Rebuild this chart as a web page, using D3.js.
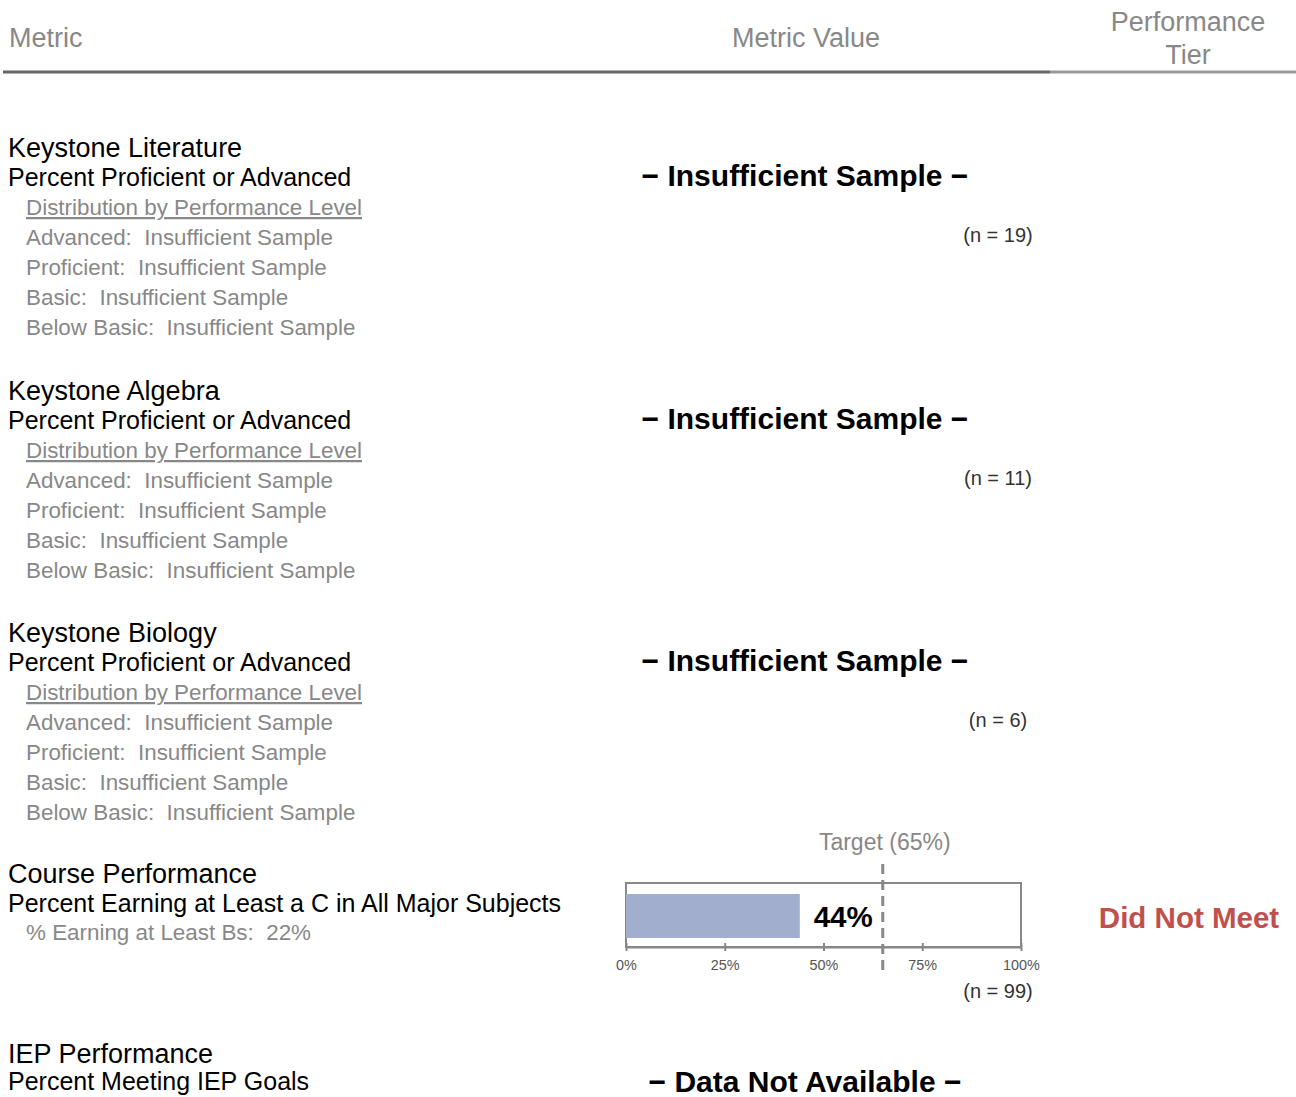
<!DOCTYPE html>
<html><head><meta charset="utf-8">
<script src="https://cdn.jsdelivr.net/npm/d3@7"></script>
<style>
html,body{margin:0;padding:0;background:#fff;}
svg{display:block;font-family:"Liberation Sans",Arial,sans-serif;}
</style></head>
<body>
<svg id="chart" width="1296" height="1097"></svg>
<script>
// ---- data ----
const headers = ["Metric", "Metric Value", "Performance Tier"];
const metricTitles = ["Keystone Literature", "Keystone Algebra", "Keystone Biology", "Course Performance", "IEP Performance"];
const metricSubtitles = ["Percent Proficient or Advanced", "Percent Proficient or Advanced", "Percent Proficient or Advanced", "Percent Earning at Least a C in All Major Subjects", "Percent Meeting IEP Goals"];
const sampleSizes = [19, 11, 6, 99, null];
const valueStatus = ["Insufficient Sample", "Insufficient Sample", "Insufficient Sample", null, "Data Not Available"];
const distLevels = ["Advanced", "Proficient", "Basic", "Below Basic"];
const distValues = ["Insufficient Sample", "Insufficient Sample", "Insufficient Sample", "Insufficient Sample"];
const courseValue = 44;      // % earning at least a C
const courseTarget = 65;     // target %
const courseBs = 22;         // % earning at least Bs
const courseTier = "Did Not Meet";
const axisTicks = [0, 25, 50, 75, 100];

// ---- drawing ----
const svg = d3.select("#chart");
const grey = "#888888";
const sectionTop = [147, 390, 632, 873, 1053];
const subGap = [29, 29, 29, 29, 27];
const valueGap = [29, 29, 29, 29, 29];

// header
svg.append("text").attr("x", 9).attr("y", 47).attr("font-size", 27).attr("fill", grey).text(headers[0]);
svg.append("text").attr("x", 806).attr("y", 47).attr("text-anchor", "middle").attr("font-size", 27).attr("fill", grey).text(headers[1]);
const tierWords = headers[2].split(" ");
svg.append("text").attr("x", 1188).attr("y", 31).attr("text-anchor", "middle").attr("font-size", 27).attr("fill", grey).text(tierWords[0]);
svg.append("text").attr("x", 1188).attr("y", 64).attr("text-anchor", "middle").attr("font-size", 27).attr("fill", grey).text(tierWords[1]);
svg.append("line").attr("x1", 3).attr("x2", 1050).attr("y1", 72).attr("y2", 72).attr("stroke", "#666").attr("stroke-width", 3);
svg.append("line").attr("x1", 1050).attr("x2", 1296).attr("y1", 72).attr("y2", 72).attr("stroke", "#999").attr("stroke-width", 3);

metricTitles.forEach((t, i) => {
  const y0 = sectionTop[i];
  const tb = y0 + 10;
  const g = svg.append("g");
  g.append("text").attr("x", 8).attr("y", tb).attr("font-size", 27).attr("fill", "#000").text(t);
  g.append("text").attr("x", 8).attr("y", tb + subGap[i]).attr("font-size", 25).attr("fill", "#000").text(metricSubtitles[i]);
  if (i < 3) {
    g.append("text").attr("x", 26).attr("y", y0 + 68).attr("font-size", 22.4).attr("fill", grey)
      .attr("text-decoration", "underline").text("Distribution by Performance Level");
    distLevels.forEach((lv, j) => {
      g.append("text").attr("x", 26).attr("y", y0 + 98 + j * 30).attr("font-size", 22.4).attr("fill", grey)
        .attr("xml:space", "preserve").text(lv + ":  " + distValues[j]);
    });
  }
  if (valueStatus[i]) {
    g.append("text").attr("x", 805).attr("y", tb + valueGap[i]).attr("text-anchor", "middle")
      .attr("font-size", 30).attr("font-weight", "bold").attr("fill", "#000")
      .text("\u2212 " + valueStatus[i] + " \u2212");
  }
  if (sampleSizes[i] != null && i < 3) {
    g.append("text").attr("x", 998).attr("y", y0 + 95).attr("text-anchor", "middle")
      .attr("font-size", 20).attr("fill", "#333").text("(n = " + sampleSizes[i] + ")");
  }
});

// course performance bullet bar
const y0 = sectionTop[3];
svg.append("text").attr("x", 26).attr("y", y0 + 67).attr("font-size", 22.4).attr("fill", grey)
  .attr("xml:space", "preserve").text("% Earning at Least Bs:  " + courseBs + "%");

const x = d3.scaleLinear().domain([0, 100]).range([626, 1021]);
const frameTop = 883, axisY = 947;
const cg = svg.append("g");
cg.append("rect").attr("x", x(0)).attr("y", frameTop).attr("width", x(100) - x(0)).attr("height", axisY - frameTop)
  .attr("fill", "none").attr("stroke", grey).attr("stroke-width", 2);
cg.append("rect").attr("x", x(0)).attr("y", 894).attr("width", x(courseValue) - x(0)).attr("height", 44)
  .attr("fill", "#a2aecd");
const axis = d3.axisBottom(x).tickValues(axisTicks).tickFormat(d => d + "%").tickSizeInner(4).tickSizeOuter(0);
const ag = cg.append("g").attr("transform", `translate(0,${axisY})`).call(axis);
ag.select(".domain").attr("stroke", grey).attr("stroke-width", 2);
ag.selectAll(".tick line").attr("stroke", grey).attr("stroke-width", 2).attr("y1", -4).attr("y2", 4);
ag.selectAll(".tick text").attr("font-size", 14.4).attr("fill", "#555").attr("font-family", "Liberation Sans, Arial, sans-serif").attr("y", 13).attr("dy", "0.71em");
cg.append("line").attr("x1", x(courseTarget)).attr("x2", x(courseTarget)).attr("y1", 864).attr("y2", 976)
  .attr("stroke", grey).attr("stroke-width", 3).attr("stroke-dasharray", "10,6");
cg.append("text").attr("x", x(courseTarget) + 2).attr("y", 850).attr("text-anchor", "middle").attr("font-size", 23)
  .attr("fill", grey).text("Target (" + courseTarget + "%)");
cg.append("text").attr("x", x(courseTarget) - 10).attr("y", 927).attr("text-anchor", "end").attr("font-size", 29.5)
  .attr("font-weight", "bold").attr("fill", "#000").text(courseValue + "%");
cg.append("text").attr("x", 998).attr("y", 998).attr("text-anchor", "middle")
  .attr("font-size", 20).attr("fill", "#333").text("(n = " + sampleSizes[3] + ")");
svg.append("text").attr("x", 1189).attr("y", 928).attr("text-anchor", "middle").attr("font-size", 29.5)
  .attr("font-weight", "bold").attr("fill", "#c0504d").text(courseTier);
</script>
</body></html>
